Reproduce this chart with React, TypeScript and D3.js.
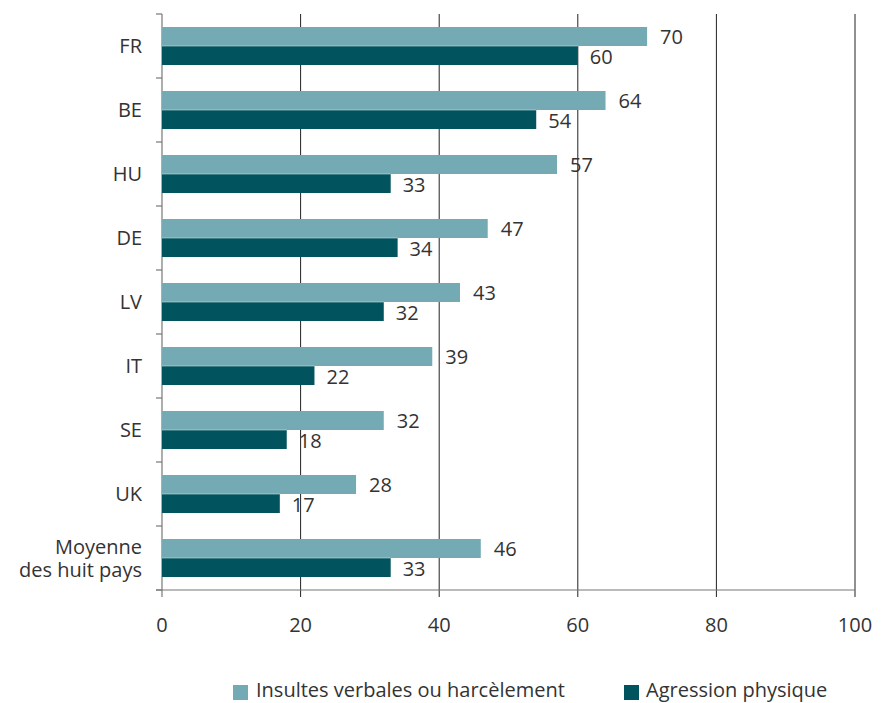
import React, { useEffect } from "react";
import * as d3 from "d3";

const categories = ["FR", "BE", "HU", "DE", "LV", "IT", "SE", "UK", "Moyenne\ndes huit pays"];
const verbal = [70, 64, 57, 47, 43, 39, 32, 28, 46];
const physical = [60, 54, 33, 34, 32, 22, 18, 17, 33];
const xTicks = [0, 20, 40, 60, 80, 100];
const seriesNames = ["Insultes verbales ou harcèlement", "Agression physique"];
const colors = ["#74aab3", "#01535d"];

const W = 884, H = 703;
const left = 162, right = 855, top = 14, bottom = 590;
const FONT = "'Open Sans', 'Noto Sans', sans-serif";
const TXT = "#333";
const FS = 20;

export default function App() {
  useEffect(() => {
    document.body.style.margin = "0";
  }, []);
  const x = d3.scaleLinear().domain([0, 100]).range([left, right]);
  const y = d3.scaleBand<number>().domain(d3.range(categories.length)).range([top, bottom]).paddingInner(0).paddingOuter(0);
  const step = y.step();
  const barH = 19;
  const offset = (step - 2 * barH) / 2;
  const boundaries = d3.range(categories.length + 1).map((i) => top + i * step);

  return (
    <svg width={W} height={H} style={{ display: "block" }} fontFamily={FONT}>
      {/* gridlines */}
      {xTicks.filter((t) => t > 0).map((t) => (
        <line key={"g" + t} x1={x(t)} x2={x(t)} y1={top} y2={bottom + 7} stroke="#222" strokeWidth={1} />
      ))}
      {/* y axis */}
      <line x1={left} x2={left} y1={top} y2={bottom + 7} stroke="#777" strokeWidth={1.2} />
      {boundaries.map((b, i) => (
        <line key={"yt" + i} x1={left - 6} x2={left} y1={b} y2={b} stroke="#777" strokeWidth={1.2} />
      ))}
      {/* x axis */}
      <line x1={left - 6} x2={right} y1={bottom} y2={bottom} stroke="#777" strokeWidth={1.2} />
      {/* bars */}
      {categories.map((c, i) => {
        const y0 = (y(i) as number) + offset;
        return (
          <g key={c}>
            <rect x={x(0)} y={y0} width={x(verbal[i]) - x(0)} height={barH} fill={colors[0]} />
            <rect x={x(0)} y={y0 + barH} width={x(physical[i]) - x(0)} height={barH} fill={colors[1]} />
            <line x1={x(0)} x2={x(Math.min(verbal[i], physical[i]))} y1={y0 + barH} y2={y0 + barH} stroke="#cfe3e6" strokeWidth={0.6} />
            <text x={x(verbal[i]) + 13} y={y0 + barH / 2} dy="0.36em" fontSize={FS} fill={TXT}>{verbal[i]}</text>
            <text x={x(physical[i]) + 12} y={y0 + barH * 1.5 + 1} dy="0.36em" fontSize={FS} fill={TXT}>{physical[i]}</text>
          </g>
        );
      })}
      {/* category labels */}
      {categories.map((c, i) => {
        const lines = c.split("\n");
        const cy = (y(i) as number) + step / 2;
        const lh = 23;
        return (
          <g key={"l" + c}>
            {lines.map((ln, j) => (
              <text key={j} x={left - 20} y={cy + (j - (lines.length - 1) / 2) * lh} dy="0.36em" textAnchor="end" fontSize={FS} fill={TXT}>{ln}</text>
            ))}
          </g>
        );
      })}
      {/* x tick labels */}
      {xTicks.map((t) => (
        <text key={"xt" + t} x={x(t)} y={625} dy="0.36em" textAnchor="middle" fontSize={FS} fill={TXT}>{t}</text>
      ))}
      {/* legend */}
      <rect x={233} y={685} width={15} height={15} fill={colors[0]} />
      <text x={256} y={690} dy="0.36em" fontSize={FS} fill={TXT}>{seriesNames[0]}</text>
      <rect x={624} y={685} width={15} height={15} fill={colors[1]} />
      <text x={646} y={690} dy="0.36em" fontSize={FS} fill={TXT}>{seriesNames[1]}</text>
    </svg>
  );
}
